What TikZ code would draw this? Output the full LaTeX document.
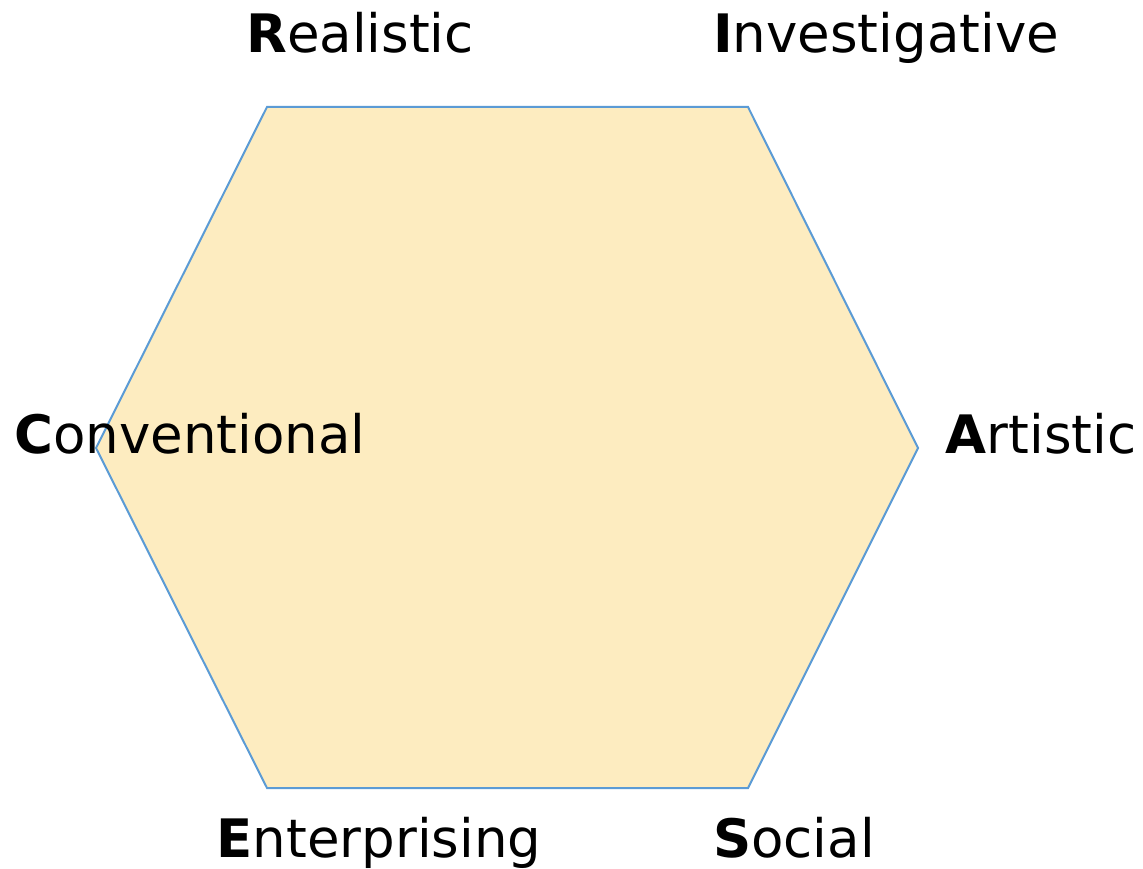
\documentclass[tikz,border=0pt]{standalone}
\usepackage{fontspec}
\setmainfont{DejaVu Sans}
\definecolor{hexfill}{HTML}{FDECC0}
\definecolor{hexline}{HTML}{5B9BD5}
\begin{document}
\begin{tikzpicture}[x=1pt,y=-1pt,
  lab/.style={anchor=base,inner sep=0pt,font=\fontsize{53}{64}\selectfont}]
\useasboundingbox (0,0) rectangle (1143,869);
\coordinate (v1) at (267,107);
\coordinate (v2) at (748,107);
\coordinate (v3) at (918,448);
\coordinate (v4) at (748,788);
\coordinate (v5) at (267,788);
\coordinate (v6) at (96,448);
\draw[hexline,fill=hexfill,line width=2pt,line join=miter] (v1) -- (v2) -- (v3) -- (v4) -- (v5) -- (v6) -- cycle;
\node[lab] (r) at (360,53) {\textbf{R}ealistic};
\node[lab] (i) at (886,53) {\textbf{I}nvestigative};
\node[lab] (c) at (190,453) {\textbf{C}onventional};
\node[lab] (a) at (1041,453) {\textbf{A}rtistic};
\node[lab] (e) at (379,857) {\textbf{E}nterprising};
\node[lab] (s) at (794,857) {\textbf{S}ocial};
\end{tikzpicture}
\end{document}
